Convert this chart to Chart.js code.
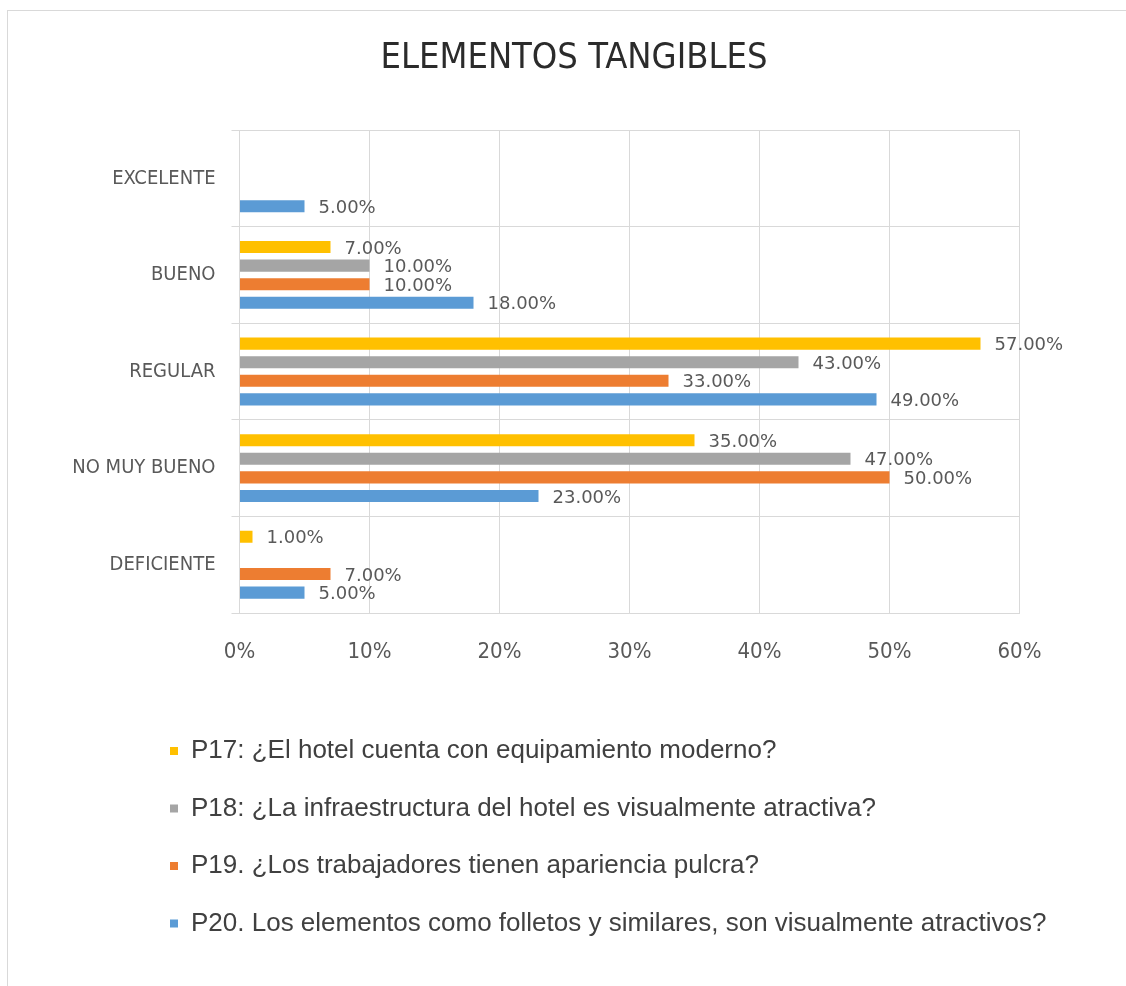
<!DOCTYPE html>
<html>
<head>
<meta charset="utf-8">
<script src="https://cdn.jsdelivr.net/npm/chart.js@4/dist/chart.umd.min.js"></script>
<style>
  body { margin: 0; background: #fff; }
  #frame { position: absolute; left: 7px; top: 10px; right: -5px; bottom: -5px; border: 1px solid #d9d9d9; }
  #sleepChart { position: absolute; left: 0; top: 0; }
</style>
</head>
<body>
<div id="frame"></div>
<canvas id="sleepChart" width="1126" height="986"></canvas>
<script>
const categories = ['EXCELENTE', 'BUENO', 'REGULAR', 'NO MUY BUENO', 'DEFICIENTE'];
const seriesNames = [
  'P17: ¿El hotel cuenta con equipamiento moderno?',
  'P18: ¿La infraestructura del hotel es visualmente atractiva?',
  'P19. ¿Los trabajadores tienen apariencia pulcra?',
  'P20. Los elementos como folletos y similares, son visualmente atractivos?'
];
const p17 = [null, 7, 57, 35, 1];
const p18 = [null, 10, 43, 47, null];
const p19 = [null, 10, 33, 50, 7];
const p20 = [5, 18, 49, 23, 5];
const xTicks = [0, 10, 20, 30, 40, 50, 60];

const colors = ['#FFC000', '#A5A5A5', '#ED7D31', '#5B9BD5'];
const condensed = "'DejaVu Sans Condensed', 'DejaVu Sans', sans-serif";

// draws the "7.00%" style labels next to each bar
const valueLabels = {
  id: 'valueLabels',
  afterDatasetsDraw(chart) {
    const ctx = chart.ctx;
    ctx.save();
    ctx.font = "18px 'DejaVu Sans', sans-serif";
    ctx.fillStyle = '#595959';
    ctx.textBaseline = 'middle';
    ctx.textAlign = 'left';
    chart.data.datasets.forEach((ds, i) => {
      chart.getDatasetMeta(i).data.forEach((bar, j) => {
        const v = ds.data[j];
        if (v == null) return;
        ctx.fillText(v.toFixed(2) + '%', bar.x + 14, bar.y + 2);
      });
    });
    ctx.restore();
  }
};

// legend and title are placed like the excel ones, not on the plot box
const blockShift = {
  id: 'blockShift',
  afterLayout(chart) {
    chart.legend.left = 138.5;
    chart.legend.right = 1120;
    chart.titleBlock.left = 80;
    chart.titleBlock.right = 1068;
  }
};

const ctx = document.getElementById('sleepChart').getContext('2d');
new Chart(ctx, {
  type: 'bar',
  data: {
    labels: categories,
    datasets: [p17, p18, p19, p20].map((d, i) => ({
      label: seriesNames[i],
      data: d,
      backgroundColor: colors[i],
      borderWidth: 0,
      barPercentage: 0.65,
      categoryPercentage: 0.77
    }))
  },
  options: {
    indexAxis: 'y',
    responsive: false,
    animation: false,
    layout: { padding: { left: 30, right: 106.5, top: 0, bottom: 39.5 } },
    scales: {
      x: {
        min: 0,
        max: 60,
        afterBuildTicks: (axis) => { axis.ticks = xTicks.map(v => ({ value: v })); },
        afterFit: (axis) => { axis.height = 93.5; },
        ticks: {
          callback: (v) => v + '%',
          color: '#595959',
          font: { family: condensed, size: 22 },
          padding: 26,
          maxRotation: 0
        },
        grid: { color: '#d9d9d9', drawTicks: false },
        border: { color: '#d9d9d9' }
      },
      y: {
        afterFit: (axis) => { axis.width = 209.5; },
        ticks: {
          color: '#595959',
          font: { family: condensed, size: 20 },
          padding: 16
        },
        grid: { color: '#d9d9d9', offset: true, tickLength: 8 },
        border: { color: '#d9d9d9' }
      }
    },
    plugins: {
      title: {
        display: true,
        text: 'ELEMENTOS TANGIBLES',
        color: '#2b2b2b',
        font: { family: condensed, size: 36, weight: 'normal' },
        padding: { top: 37, bottom: 49.8 }
      },
      legend: {
        position: 'bottom',
        align: 'start',
        labels: {
          boxWidth: 8,
          boxHeight: 8,
          padding: 31.5,
          color: '#404040',
          font: { family: "'Liberation Sans', Arial, sans-serif", size: 26 }
        }
      },
      tooltip: { enabled: false }
    }
  },
  plugins: [valueLabels, blockShift]
});
</script>
</body>
</html>
